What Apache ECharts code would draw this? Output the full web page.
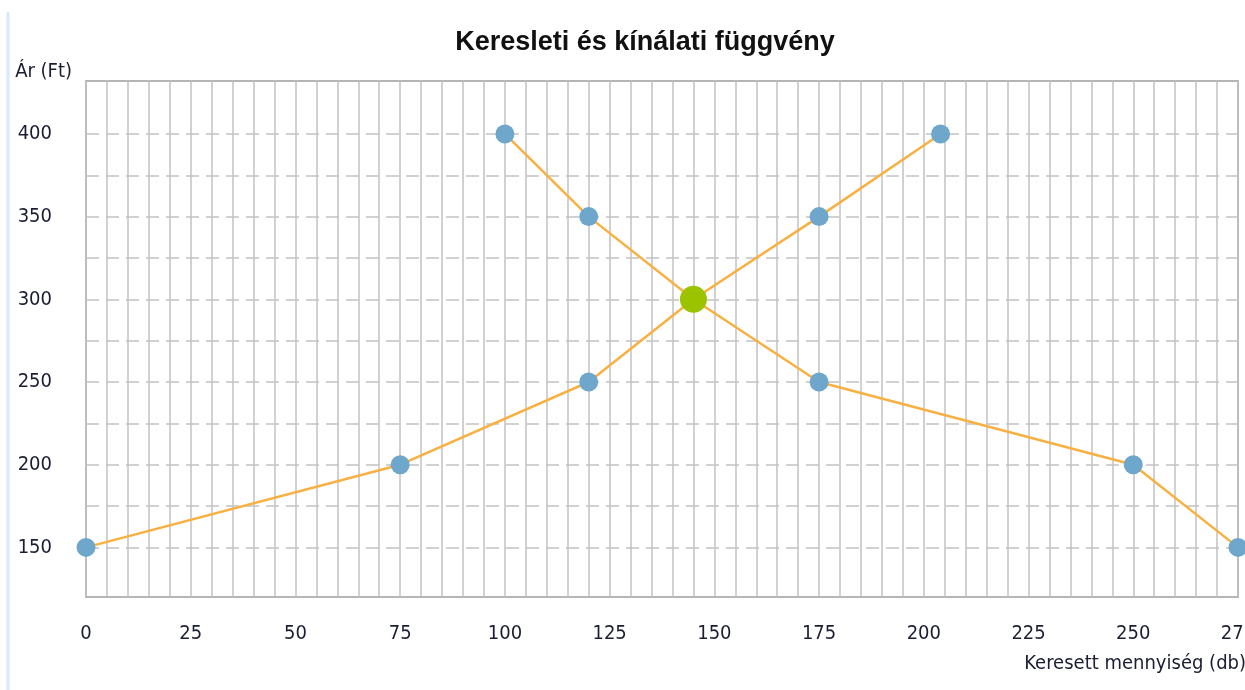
<!DOCTYPE html>
<html>
<head>
<meta charset="utf-8">
<script src="https://cdn.jsdelivr.net/npm/echarts@6/dist/echarts.min.js"></script>
<style>
  html, body { margin: 0; padding: 0; background: #fff; }
  #chart { width: 1245px; height: 690px; }
</style>
</head>
<body>
<div id="chart"></div>
<script>
// kereslet (demand) and kínálat (supply) points: [mennyiség, ár]
var kereslet = [[100, 400], [120, 350], [145, 300], [175, 250], [250, 200], [275, 150]];
var kinalat = [[0, 150], [75, 200], [120, 250], [145, 300], [175, 350], [204, 400]];
var egyensuly = [[145, 300]];

var xLabels = [0, 25, 50, 75, 100, 125, 150, 175, 200, 225, 250, 275];
var yLabels = [150, 200, 250, 300, 350, 400];
var yGrid = [150, 175, 200, 225, 250, 275, 300, 325, 350, 375, 400];

var font = "'DejaVu Sans Condensed', 'DejaVu Sans', sans-serif";
var txt = '#1b1d33';
var gridCol = '#c2c2c2';

var chart = echarts.init(document.getElementById('chart'));
var option = {
    backgroundColor: '#fff',
    animation: false,
    title: {
        text: 'Keresleti és kínálati függvény',
        left: 640,
        textAlign: 'center',
        top: 24,
        textStyle: { fontFamily: "'Liberation Sans', sans-serif", fontSize: 27, fontWeight: 'bold', color: '#111' }
    },
    graphic: [{
        type: 'line',
        shape: { x1: 8, y1: 12, x2: 8, y2: 690 },
        style: { stroke: '#d6eaf8', lineWidth: 3 }
    }],
    grid: {
        left: 86, right: 7, top: 81, bottom: 93,
        outerBoundsMode: 'none',
        show: true, borderColor: '#b5b5b5', borderWidth: 2, backgroundColor: 'transparent'
    },
    xAxis: {
        type: 'value',
        min: 0, max: 275, interval: 5,
        name: 'Keresett mennyiség (db)',
        nameLocation: 'end',
        nameGap: 8,
        nameTextStyle: { fontFamily: font, fontSize: 20, color: txt, align: 'right', verticalAlign: 'top', padding: [57, 0, 0, 0] },
        axisLine: { show: false },
        axisTick: { show: false },
        axisLabel: { customValues: xLabels, margin: 27, fontFamily: font, fontSize: 20, color: txt },
        splitLine: { show: true, lineStyle: { color: gridCol, width: 1.5 } }
    },
    yAxis: {
        type: 'value',
        min: 120, max: 432,
        name: 'Ár (Ft)',
        nameLocation: 'end',
        nameGap: 9,
        nameTextStyle: { fontFamily: font, fontSize: 20, color: txt, align: 'right', verticalAlign: 'middle', padding: [0, 14, 0, 0] },
        axisLine: { show: false },
        axisTick: { show: false },
        axisLabel: { customValues: yLabels, margin: 34, fontFamily: font, fontSize: 20, color: txt },
        splitLine: { show: false }
    },
    series: [{
        type: 'line',
        name: 'rács',
        data: [],
        z: 1,
        silent: true,
        markLine: {
            silent: true,
            z: 1,
            symbol: 'none',
            label: { show: false },
            lineStyle: { color: gridCol, width: 1.5, type: [13, 7] },
            data: yGrid.map(function (v) { return { yAxis: v }; })
        }
    }, {
        type: 'line',
        name: 'Kereslet',
        data: kereslet,
        z: 3,
        symbol: 'circle',
        symbolSize: 19,
        lineStyle: { color: '#f8b042', width: 2.5 },
        itemStyle: { color: '#6ea7cb' }
    }, {
        type: 'line',
        name: 'Kínálat',
        data: kinalat,
        z: 3,
        symbol: 'circle',
        symbolSize: 19,
        lineStyle: { color: '#f8b042', width: 2.5 },
        itemStyle: { color: '#6ea7cb' }
    }, {
        type: 'scatter',
        name: 'Egyensúly',
        data: egyensuly,
        z: 5,
        symbolSize: 27,
        itemStyle: { color: '#9cc300', opacity: 1 }
    }]
};
chart.setOption(option);
</script>
</body>
</html>
